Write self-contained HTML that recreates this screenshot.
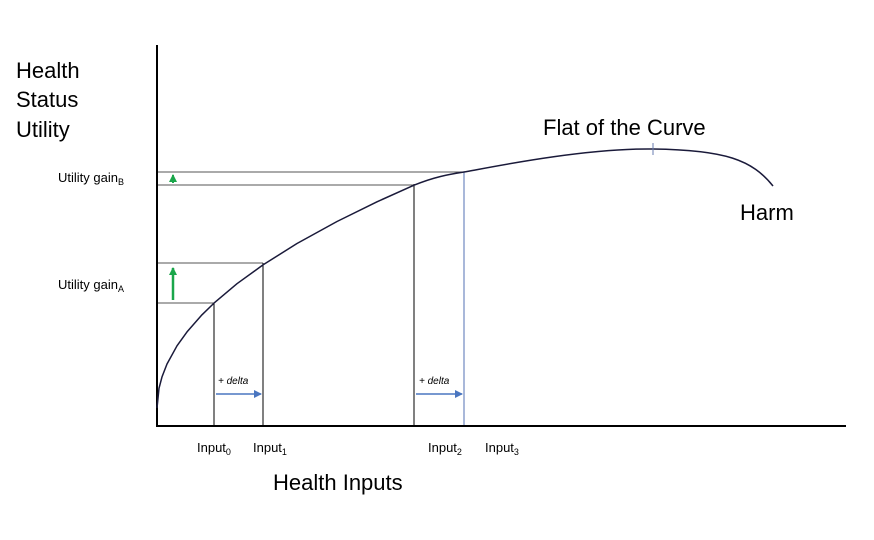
<!DOCTYPE html>
<html><head><style>body{margin:0;background:#fff}svg{display:block}</style></head><body>
<svg width="874" height="540" xmlns="http://www.w3.org/2000/svg" font-family="Liberation Sans, sans-serif">
<defs>
<marker id="b" markerWidth="8" markerHeight="8" refX="7" refY="4" orient="auto" markerUnits="userSpaceOnUse"><path d="M0,0 L8,4 L0,8z" fill="#4a76c0"/></marker>
<marker id="g" markerWidth="8" markerHeight="8" refX="7" refY="4" orient="auto" markerUnits="userSpaceOnUse"><path d="M0,0 L8,4 L0,8z" fill="#1aa64a"/></marker>
</defs>
<g stroke="#555" stroke-width="1" fill="none">
<line x1="157" y1="172" x2="464" y2="172"/>
<line x1="157" y1="185" x2="414" y2="185"/>
<line x1="157" y1="263" x2="263" y2="263"/>
<line x1="157" y1="303" x2="214" y2="303"/>
</g>
<g stroke="#000" stroke-width="1">
<line x1="214" y1="303" x2="214" y2="426"/>
<line x1="263" y1="263" x2="263" y2="426"/>
<line x1="414" y1="184" x2="414" y2="426"/>
</g>
<line x1="464" y1="172" x2="464" y2="426" stroke="#7088c0" stroke-width="1.2"/>
<line x1="157" y1="45" x2="157" y2="427" stroke="#000" stroke-width="2"/>
<line x1="156" y1="426" x2="846" y2="426" stroke="#000" stroke-width="2"/>
<path d="M157,408 L159,388.3 L162,376.9 L167,364 L177,345.8 L187,331.9 L202,314.8 L214,303.1 L237,283.7 L263,264.9 L297,243.5 L337,221.5 L377,201.8 L414,185.2 C434,177 448,174.5 464,172 S580,148 653,149 S752,160 773,186" fill="none" stroke="#1a1a3a" stroke-width="1.5" stroke-linejoin="round"/>
<line x1="653" y1="143" x2="653" y2="155" stroke="#6a7cb0" stroke-width="1"/>
<line x1="173" y1="300" x2="173" y2="268" stroke="#1aa64a" stroke-width="2.5" marker-end="url(#g)"/>
<line x1="173" y1="183" x2="173" y2="175" stroke="#1aa64a" stroke-width="2" marker-end="url(#g)"/>
<line x1="216" y1="394" x2="261" y2="394" stroke="#4a76c0" stroke-width="1.5" marker-end="url(#b)"/>
<line x1="416" y1="394" x2="462" y2="394" stroke="#4a76c0" stroke-width="1.5" marker-end="url(#b)"/>
<g font-size="10" font-style="italic" fill="#000"><text x="218" y="384">+ delta</text><text x="419" y="384">+ delta</text></g>
<g font-size="22" fill="#000"><text x="16" y="78">Health</text><text x="16" y="107">Status</text><text x="16" y="137">Utility</text>
<text x="543" y="135">Flat of the Curve</text><text x="740" y="220">Harm</text><text x="273" y="490">Health Inputs</text></g>
<g font-size="13" fill="#000">
<text x="58" y="182">Utility gain<tspan font-size="9" dy="3">B</tspan></text>
<text x="58" y="289">Utility gain<tspan font-size="9" dy="3">A</tspan></text>
<text x="197" y="452">Input<tspan font-size="9" dy="3">0</tspan></text>
<text x="253" y="452">Input<tspan font-size="9" dy="3">1</tspan></text>
<text x="428" y="452">Input<tspan font-size="9" dy="3">2</tspan></text>
<text x="485" y="452">Input<tspan font-size="9" dy="3">3</tspan></text>
</g>
</svg>
</body></html>
